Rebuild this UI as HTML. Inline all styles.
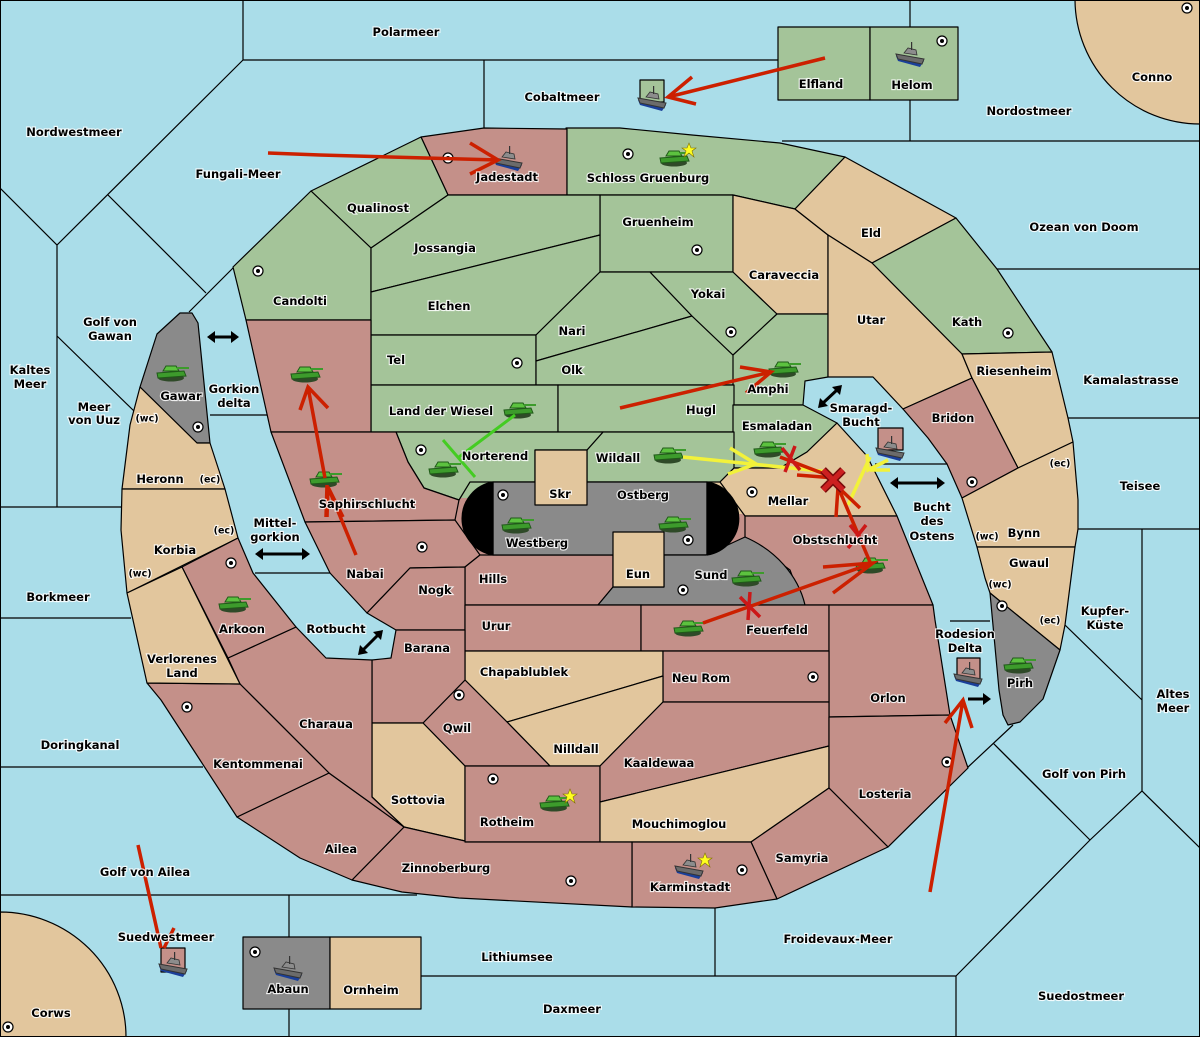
<!DOCTYPE html>
<html><head><meta charset="utf-8"><style>
html,body{margin:0;padding:0;background:#aadde9}
svg{display:block}
text{font-family:"DejaVu Sans","Liberation Sans",sans-serif;font-weight:bold;font-size:11.5px;fill:#000;stroke:#fff;stroke-width:2.2px;stroke-opacity:.85;paint-order:stroke;text-anchor:middle;dominant-baseline:central}
.s{fill:#aadde9}.g{fill:#a4c499}.p{fill:#c49089}.t{fill:#e2c69d}.y{fill:#8a8a8a}
.b path,.b polygon,.b rect{stroke:#000;stroke-width:1.2;stroke-linejoin:round}
.l{stroke:#000;stroke-width:1.2;fill:none}
.r{stroke:#cc2000;stroke-width:3.5;fill:none;stroke-linecap:butt}
.ye{stroke:#f2f23a;stroke-width:3.5;fill:none}
.gr{stroke:#44cc22;stroke-width:3;fill:none}
.k{stroke:#000;stroke-width:3;fill:none}
</style></head><body>
<svg width="1200" height="1037" viewBox="0 0 1200 1037" xmlns="http://www.w3.org/2000/svg">
<defs>
<g id="tk">
<ellipse cx="0" cy="5" rx="13" ry="3.5" fill="#2f4a28"/>
<path d="M-14,0 L13,-2 L15,3 L-13,5 Z" fill="#3d9b2c" stroke="#1f5a18" stroke-width="1"/>
<path d="M-8,-2 L-5,-7 L5,-7 L8,-2 Z" fill="#5cc23f" stroke="#1f5a18" stroke-width="1"/>
<rect x="6" y="-6" width="12" height="2" fill="#3d9b2c"/>
</g>
<g id="sh">
<path d="M-14,0 L14,5 L10,11 L-12,5 Z" fill="#1a3f9a"/>
<path d="M-14,-2 L14,3 L12,8 L-12,3 Z" fill="#6b6b6b" stroke="#333" stroke-width="1"/>
<path d="M-6,-3 L-2,-8 L6,-6 L7,-1 Z" fill="#8c8c8c" stroke="#333" stroke-width=".8"/>
<rect x="1" y="-14" width="1.2" height="8" fill="#333"/>
</g>
<g id="sc"><circle r="5" fill="#fff" stroke="#000" stroke-width="1.2"/><circle r="2" fill="#000"/></g>
<polygon id="st" points="0,-7 2,-2 7,-2 3,1 5,7 0,3 -5,7 -3,1 -7,-2 -2,-2" fill="#ffff20" stroke="#807000" stroke-width=".6"/>
</defs>
<rect width="1200" height="1037" class="s"/>
<!-- sea lines -->
<g class="l">
<path d="M243,0V60H778M484,60V128M243,60L57,245L0,188M57,245V507M108,195L206,293M189,312L233,268M57,336L135,412M0,507H122M0,618H131M0,767H203M0,895H417M289,895V1037"/>
<path d="M910,0V141M782,141H1200M997,269H1200M1068,418H1200M1078,529H1200M1142,529V791M1065,625L1142,700M1013,725L967,768M993,743L1060,810"/>
<path d="M421,976H956M715,908V976M956,976V1037M956,976L1090,840L1142,791L1200,848M995,745L1090,840"/>
<path d="M210,415H267M255,573H330M875,464H947M950,621H990"/>
</g>
<!-- under-pill fills -->
<rect x="450" y="486" width="52" height="76" fill="#c49089"/>
<rect x="458" y="478" width="40" height="20" fill="#a4c499"/>
<rect x="700" y="466" width="52" height="52" fill="#e2c69d"/>
<rect x="700" y="514" width="52" height="46" fill="#c49089"/>
<g class="b">
<path class="t" d="M1075,0 A125,125 0 0 0 1200,124 V0 Z"/>
<path class="t" d="M0,912 A126,125 0 0 1 126,1037 H0 Z"/>
<rect class="g" x="778" y="27" width="92" height="73"/>
<rect class="g" x="870" y="27" width="88" height="73"/>
<rect class="g" x="640" y="80" width="24" height="22"/>
<rect class="y" x="243" y="937" width="87" height="72"/>
<rect class="t" x="330" y="937" width="91" height="72"/>
<rect class="p" x="878" y="428" width="25" height="22"/>
<rect class="p" x="957" y="658" width="23" height="22"/>
<rect class="p" x="161" y="948" width="24" height="24"/>
<!-- north -->
<polygon class="p" points="421,137 484,128 567,129 567,195 448,195"/>
<polygon class="g" points="567,129 566,128 620,128 692,135 780,143 845,157 795,209 733,195 567,195"/>
<polygon class="g" points="311,191 421,137 448,195 371,248"/>
<polygon class="g" points="233,267 311,191 371,248 371,320 246,320"/>
<polygon class="g" points="600,195 733,195 733,272 600,272"/>
<polygon class="g" points="371,248 448,195 600,195 600,235 371,292"/>
<polygon class="g" points="371,292 600,235 600,272 536,335 371,335"/>
<polygon class="g" points="371,335 536,335 536,385 371,385"/>
<polygon class="g" points="536,335 600,272 650,272 692,316 536,361"/>
<polygon class="g" points="536,361 692,316 734,356 734,385 536,385"/>
<polygon class="g" points="650,272 733,272 777,314 734,356 692,316"/>
<polygon class="t" points="733,195 795,209 828,235 828,314 777,314 733,272"/>
<polygon class="t" points="845,157 956,218 872,263 828,235 795,209"/>
<polygon class="g" points="733,355 777,314 828,314 828,377 805,381 803,405 733,405"/>
<polygon class="g" points="371,385 558,385 558,432 371,432"/>
<polygon class="g" points="558,385 734,385 734,432 558,432"/>
<polygon class="g" points="733,405 803,405 837,423 807,452 780,468 733,468"/>
<polygon class="g" points="603,432 734,432 734,468 720,482 587,482 587,450"/>
<polygon class="g" points="396,432 603,432 587,450 535,450 535,482 470,482 459,500 424,488 408,462"/>
<!-- east strip -->
<polygon class="g" points="872,263 956,218 997,269 1052,352 962,354"/>
<polygon class="t" points="828,235 872,263 962,354 972,378 903,409 873,377 828,377"/>
<polygon class="t" points="962,354 1052,352 1068,418 1073,442 1018,468 972,378"/>
<polygon class="p" points="903,409 972,378 1018,468 962,498 947,464 928,438"/>
<polygon class="t" points="962,498 1018,468 1073,442 1078,500 1078,529 1075,547 977,547"/>
<polygon class="t" points="977,547 1075,547 1065,625 1060,650 990,593 985,578"/>
<polygon class="y" points="990,593 1060,650 1043,699 1020,722 1008,725 1003,715 999,690"/>
<polygon class="t" points="720,482 734,468 780,468 807,452 837,423 867,456 897,516 745,516"/>
<polygon class="p" points="745,516 897,516 933,605 803,605 790,570 745,537"/>
<!-- center -->
<polygon class="p" points="246,320 371,320 371,432 271,432"/>
<polygon class="p" points="271,432 396,432 408,462 424,488 459,500 455,520 305,522"/>
<polygon class="p" points="305,522 455,520 480,555 465,567 410,568 367,613 330,573"/>
<polygon class="p" points="480,555 613,555 613,587 598,605 465,605 465,567"/>
<polygon class="p" points="410,568 465,567 465,630 396,630 367,613"/>
<polygon class="y" points="493,482 707,482 707,555 493,555"/>
<path class="y" d="M664,555 H706 L745,537 C775,550 798,575 805,605 H598 L613,587 H664 Z"/>
<path fill="#000" stroke="#000" d="M493,482 A37,37 0 0 0 493,555 Z M707,482 A38,37 0 0 1 707,555 Z"/>
<rect class="t" x="535" y="450" width="52" height="55"/>
<rect class="t" x="613" y="532" width="51" height="55"/>
<polygon class="p" points="465,605 641,605 641,651 465,651"/>
<polygon class="p" points="641,605 829,605 829,651 641,651"/>
<polygon class="p" points="829,605 933,605 935,620 950,715 829,717"/>
<polygon class="t" points="465,651 663,651 663,676 507,722 465,680"/>
<polygon class="p" points="663,651 829,651 829,702 663,702"/>
<polygon class="t" points="507,722 663,676 663,702 600,766 550,766"/>
<polygon class="p" points="465,680 507,722 550,766 465,766 423,723"/>
<polygon class="p" points="396,630 465,630 465,680 423,723 372,723 372,660 391,658"/>
<polygon class="t" points="372,723 423,723 465,766 465,841 404,827 372,797"/>
<polygon class="p" points="465,766 600,766 600,842 465,842"/>
<polygon class="p" points="663,702 829,702 829,746 600,802 600,766"/>
<polygon class="t" points="600,802 829,746 829,788 751,842 600,842"/>
<polygon class="p" points="829,717 950,715 968,768 888,847 829,788"/>
<polygon class="p" points="751,842 829,788 888,847 777,899"/>
<polygon class="p" points="632,842 751,842 777,899 715,908 632,907"/>
<polygon class="p" points="404,827 465,841 465,842 632,842 632,907 459,898 402,892 352,880"/>
<polygon class="p" points="237,817 329,773 404,827 352,880 300,858"/>
<polygon class="p" points="228,658 296,627 326,658 372,660 372,797 404,827 329,773 240,684"/>
<polygon class="p" points="147,683 240,684 329,773 237,817 200,760 161,700"/>
<!-- west peninsula -->
<polygon class="y" points="140,387 157,334 180,313 192,313 198,323 210,443 197,443"/>
<polygon class="t" points="140,387 197,443 210,443 225,489 122,489 130,425"/>
<polygon class="t" points="122,489 225,489 238,538 127,593 121,530"/>
<polygon class="p" points="238,538 253,573 296,627 228,658 182,567"/>
<polygon class="t" points="127,593 182,567 240,684 147,683"/>
</g>
<!-- supply centers -->
<g>
<use href="#sc" x="448" y="158"/><use href="#sc" x="628" y="154"/><use href="#sc" x="942" y="41"/><use href="#sc" x="1187" y="8"/>
<use href="#sc" x="697" y="250"/><use href="#sc" x="258" y="271"/><use href="#sc" x="731" y="332"/><use href="#sc" x="1008" y="333"/>
<use href="#sc" x="517" y="363"/><use href="#sc" x="198" y="427"/><use href="#sc" x="421" y="450"/><use href="#sc" x="503" y="495"/>
<use href="#sc" x="752" y="492"/><use href="#sc" x="972" y="482"/><use href="#sc" x="231" y="563"/><use href="#sc" x="422" y="547"/>
<use href="#sc" x="1002" y="606"/><use href="#sc" x="688" y="540"/><use href="#sc" x="683" y="590"/><use href="#sc" x="813" y="677"/>
<use href="#sc" x="459" y="695"/><use href="#sc" x="187" y="707"/><use href="#sc" x="947" y="762"/><use href="#sc" x="493" y="779"/>
<use href="#sc" x="571" y="881"/><use href="#sc" x="742" y="870"/><use href="#sc" x="255" y="952"/><use href="#sc" x="8" y="1027"/>
</g>
<!-- units -->
<g>
<use href="#tk" x="674" y="158"/><use href="#st" x="689" y="150"/>
<use href="#tk" x="305" y="374"/><use href="#tk" x="324" y="479"/><use href="#tk" x="171" y="373"/><use href="#tk" x="233" y="604"/>
<use href="#tk" x="518" y="410"/><use href="#tk" x="443" y="469"/><use href="#tk" x="668" y="455"/><use href="#tk" x="783" y="369"/>
<use href="#tk" x="768" y="449"/><use href="#tk" x="516" y="525"/><use href="#tk" x="673" y="524"/><use href="#tk" x="746" y="578"/>
<use href="#tk" x="870" y="565"/><use href="#tk" x="688" y="628"/><use href="#tk" x="554" y="803"/><use href="#st" x="570" y="796"/>
<use href="#tk" x="1018" y="665"/>
<use href="#sh" x="508" y="160"/><use href="#sh" x="652" y="100"/><use href="#sh" x="910" y="56"/><use href="#sh" x="890" y="450"/>
<use href="#sh" x="968" y="676"/><use href="#sh" x="173" y="966"/><use href="#sh" x="288" y="970"/><use href="#sh" x="689" y="868"/><use href="#st" x="705" y="860"/>
</g>
<!-- orders -->
<g>
<path class="r" d="M268,153 L320,155 L498,160 M470,143 L498,160 L470,174"/>
<path class="r" d="M825,58 L668,97 M692,77 L668,97 L696,104"/>
<path class="r" d="M325,478 L308,387 M300,410 L308,387 L328,408 M326,517 L327,485"/>
<path class="r" d="M356,555 L328,487 M327,517 L328,487 L343,517"/>
<path class="r" d="M620,408 L771,372 M740,367 L771,372 L746,393"/>
<path class="ye" d="M683,457 L830,472 M730,448 L756,464 L728,474"/>
<path class="ye" d="M848,505 L870,457 M867,454 L868,470 L888,460 M870,470 L890,470"/>
<path class="gr" d="M515,415 L459,457 M443,440 L475,477"/>
<path class="r" d="M780,457 L835,478 M797,475 L835,478 M870,562 L838,487 L836,517 M838,487 L860,508"/>
<path class="r" d="M703,623 L873,563 M823,567 L873,563 L833,593"/>
<path class="r" d="M138,845 L161,948 M174,928 L164,948"/>
<path class="r" d="M930,892 L963,700 M945,723 L963,700 L972,728"/>
<g stroke="#cc1818" stroke-width="3.5"><path d="M782,448 L800,470 M795,446 L785,472"/><path d="M850,525 L866,545 M866,525 L848,548"/><path d="M740,597 L760,617 M750,592 L748,620"/></g>
<path d="M823,470 L843,490 M843,470 L823,490" stroke="#7a0a0a" stroke-width="8"/><path d="M823,470 L843,490 M843,470 L823,490" stroke="#cc2020" stroke-width="5"/>
<g class="k"><path d="M212,337H234"/><path d="M260,554H305"/><path d="M362,651L379,634"/><path d="M822,404L838,389"/><path d="M895,483H940"/><path d="M968,699H985"/></g>
<g fill="#000"><path d="M207,337l8,-6v12z M239,337l-8,-6v12z M255,554l8,-6v12z M310,554l-8,-6v12z M358,655l2,-10l8,8z M383,630l-2,10l-8,-8z M818,408l2,-10l8,8z M842,385l-2,10l-8,-8z M890,483l8,-6v12z M945,483l-8,-6v12z M991,699l-8,-6v12z"/></g>
</g>
<!-- labels -->
<g>
<text x="406" y="32">Polarmeer</text><text x="562" y="97">Cobaltmeer</text><text x="821" y="84">Elfland</text><text x="912" y="85">Helom</text>
<text x="1152" y="77">Conno</text><text x="1029" y="111">Nordostmeer</text><text x="74" y="132">Nordwestmeer</text><text x="238" y="174">Fungali-Meer</text>
<text x="507" y="177">Jadestadt</text><text x="648" y="178">Schloss Gruenburg</text><text x="378" y="208">Qualinost</text><text x="658" y="222">Gruenheim</text>
<text x="871" y="233">Eld</text><text x="1084" y="227">Ozean von Doom</text><text x="445" y="248">Jossangia</text><text x="784" y="275">Caraveccia</text>
<text x="708" y="294">Yokai</text><text x="300" y="301">Candolti</text><text x="449" y="306">Elchen</text><text x="871" y="320">Utar</text><text x="967" y="322">Kath</text>
<text x="110" y="322">Golf von</text><text x="110" y="336">Gawan</text><text x="572" y="331">Nari</text><text x="396" y="360">Tel</text><text x="572" y="370">Olk</text>
<text x="30" y="370">Kaltes</text><text x="30" y="384">Meer</text><text x="1014" y="371">Riesenheim</text><text x="1131" y="380">Kamalastrasse</text>
<text x="768" y="389">Amphi</text><text x="181" y="396">Gawar</text><text x="234" y="389">Gorkion</text><text x="234" y="403">delta</text>
<text x="94" y="407">Meer</text><text x="94" y="420">von Uuz</text><text x="147" y="419" style="font-size:9.5px">(wc)</text>
<text x="441" y="411">Land der Wiesel</text><text x="701" y="410">Hugl</text><text x="861" y="408">Smaragd-</text><text x="861" y="422">Bucht</text>
<text x="953" y="418">Bridon</text><text x="777" y="426">Esmaladan</text><text x="495" y="456">Norterend</text><text x="618" y="458">Wildall</text>
<text x="1060" y="464" style="font-size:9.5px">(ec)</text><text x="160" y="479">Heronn</text><text x="210" y="480" style="font-size:9.5px">(ec)</text><text x="1140" y="486">Teisee</text>
<text x="560" y="494">Skr</text><text x="643" y="495">Ostberg</text><text x="788" y="501">Mellar</text><text x="367" y="504">Saphirschlucht</text>
<text x="932" y="507">Bucht</text><text x="932" y="521">des</text><text x="932" y="536">Ostens</text><text x="275" y="523">Mittel-</text><text x="275" y="537">gorkion</text>
<text x="224" y="531" style="font-size:9.5px">(ec)</text><text x="987" y="537" style="font-size:9.5px">(wc)</text><text x="1024" y="533">Bynn</text>
<text x="537" y="543">Westberg</text><text x="835" y="540">Obstschlucht</text><text x="175" y="550">Korbia</text><text x="1029" y="563">Gwaul</text>
<text x="140" y="574" style="font-size:9.5px">(wc)</text><text x="365" y="574">Nabai</text><text x="638" y="574">Eun</text><text x="711" y="575">Sund</text>
<text x="493" y="579">Hills</text><text x="1000" y="585" style="font-size:9.5px">(wc)</text><text x="435" y="590">Nogk</text><text x="58" y="597">Borkmeer</text>
<text x="1105" y="611">Kupfer-</text><text x="1105" y="625">Küste</text><text x="1050" y="621" style="font-size:9.5px">(ec)</text><text x="496" y="626">Urur</text>
<text x="336" y="629">Rotbucht</text><text x="242" y="629">Arkoon</text><text x="777" y="630">Feuerfeld</text><text x="965" y="634">Rodesion</text><text x="965" y="648">Delta</text>
<text x="427" y="648">Barana</text><text x="182" y="659">Verlorenes</text><text x="182" y="673">Land</text><text x="524" y="672">Chapablublek</text>
<text x="701" y="678">Neu Rom</text><text x="1020" y="683">Pirh</text><text x="1173" y="694">Altes</text><text x="1173" y="708">Meer</text><text x="888" y="698">Orlon</text>
<text x="326" y="724">Charaua</text><text x="457" y="728">Qwil</text><text x="80" y="745">Doringkanal</text><text x="576" y="749">Nilldall</text>
<text x="659" y="763">Kaaldewaa</text><text x="258" y="764">Kentommenai</text><text x="1084" y="774">Golf von Pirh</text><text x="885" y="794">Losteria</text>
<text x="418" y="800">Sottovia</text><text x="507" y="822">Rotheim</text><text x="679" y="824">Mouchimoglou</text><text x="341" y="849">Ailea</text>
<text x="802" y="858">Samyria</text><text x="446" y="868">Zinnoberburg</text><text x="145" y="872">Golf von Ailea</text><text x="690" y="887">Karminstadt</text>
<text x="838" y="939">Froidevaux-Meer</text><text x="166" y="937">Suedwestmeer</text><text x="517" y="957">Lithiumsee</text><text x="288" y="989">Abaun</text>
<text x="371" y="990">Ornheim</text><text x="1081" y="996">Suedostmeer</text><text x="572" y="1009">Daxmeer</text><text x="51" y="1013">Corws</text>
</g>
<rect x="0.5" y="0.5" width="1199" height="1036" fill="none" stroke="#000"/>
</svg>
</body></html>
